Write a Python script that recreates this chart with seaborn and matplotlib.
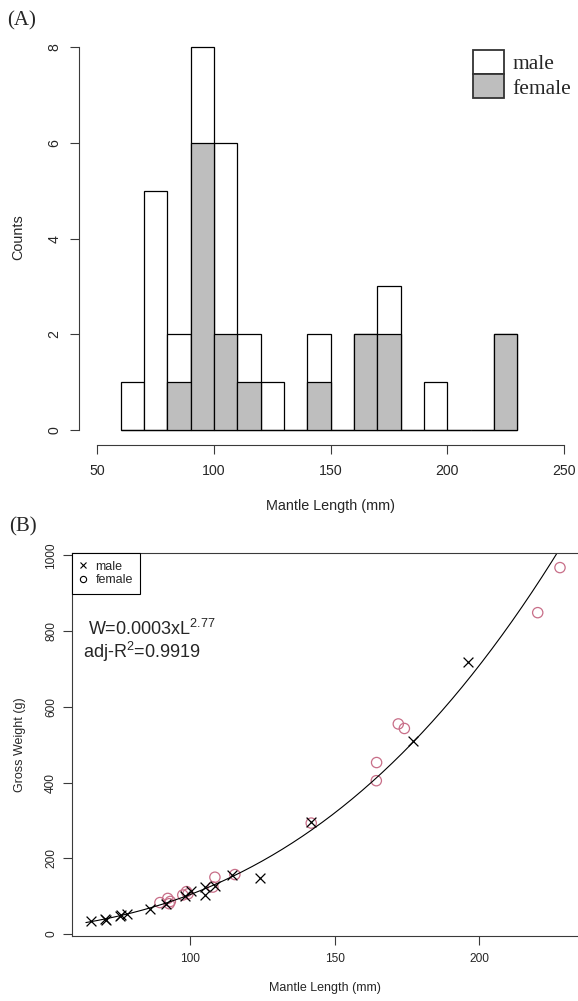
import numpy as np
import matplotlib
matplotlib.use("Agg")
import matplotlib.pyplot as plt
import seaborn as sns
from matplotlib.patches import Patch
from matplotlib.lines import Line2D

# ---------------- data ----------------
# Panel A: histogram counts per 10 mm bin (60-230 mm)
bin_edges = [60, 70, 80, 90, 100, 110, 120, 130, 140, 150, 160, 170, 180, 190, 200, 210, 220, 230]
male_counts = [1, 5, 2, 8, 6, 2, 1, 0, 2, 0, 2, 3, 0, 1, 0, 0, 2]
female_counts = [0, 0, 1, 6, 2, 1, 0, 0, 1, 0, 2, 2, 0, 0, 0, 0, 2]
hist_labels = ["male", "female"]

# Panel B: mantle length (mm) vs gross weight (g)
male_length = [65.7, 70.6, 70.8, 75.8, 76.3, 78.1, 86.0, 91.8, 98.3, 100.5,
               105.2, 105.2, 108.8, 114.5, 124.3, 141.8, 177.2, 196.2]
male_weight = [34, 40, 38, 48, 50, 52, 65, 80, 101, 113,
               123, 103, 128, 155, 148, 295, 511, 718]
female_length = [89.6, 92.3, 92.8, 93.2, 97.5, 98.8, 99.3, 107.9, 108.6, 115.5,
                 141.9, 164.5, 164.4, 172.0, 174.1, 220.2, 227.9]
female_weight = [83, 94, 80, 86, 103, 112, 106, 124, 150, 157,
                 293, 453, 405, 555, 543, 849, 968]
fit_a = 0.0003
fit_b = 2.77
adj_r2 = 0.9919

hist_xticks = [50, 100, 150, 200, 250]
hist_yticks = [0, 2, 4, 6, 8]
scat_xticks = [100, 150, 200]
scat_yticks = [0, 200, 400, 600, 800, 1000]

# ---------------- style ----------------
sns.set_style("ticks")
plt.rcParams["font.family"] = ["Liberation Sans", "DejaVu Sans"]
SERIF = ["Liberation Serif", "DejaVu Serif"]
AXC = "#3a3a3a"
FEM_C = "#c86e88"

W, H = 578, 1001
fig = plt.figure(figsize=(W / 100, H / 100), dpi=100)


def rect(left, top, right, bottom):
    return [left / W, 1 - bottom / H, (right - left) / W, (bottom - top) / H]


# ---------------- panel A ----------------
axA = fig.add_axes(rect(78.6, 32, 582.7, 445.3))
centers = [(bin_edges[i] + bin_edges[i + 1]) / 2 for i in range(len(bin_edges) - 1)]
sns.histplot(x=centers, weights=male_counts, bins=bin_edges, color="white",
             edgecolor="black", linewidth=0.9, alpha=1, ax=axA)
sns.histplot(x=centers, weights=female_counts, bins=bin_edges, color="#bebebe",
             edgecolor="black", linewidth=0.9, alpha=1, ax=axA)
axA.set_xlim(42, 258)
axA.set_ylim(-0.32, 8.32)
for s in ["top", "right"]:
    axA.spines[s].set_visible(False)
axA.spines["left"].set_bounds(0, 8)
axA.spines["bottom"].set_bounds(50, 250)
for s in ["left", "bottom"]:
    axA.spines[s].set_color(AXC)
    axA.spines[s].set_linewidth(0.8)
axA.set_xticks(hist_xticks)
axA.set_yticks(hist_yticks)
axA.tick_params(length=6.5, width=0.8, color=AXC, labelsize=10.2)
axA.tick_params(axis="x", pad=7)
axA.tick_params(axis="y", pad=6, labelrotation=90)
for lab in axA.get_yticklabels():
    lab.set_va("center")
axA.set_xlabel("Mantle Length (mm)", fontsize=10.4, va="center")
axA.xaxis.set_label_coords(0.5, (445.3 - 506) / 413.3)
axA.set_ylabel("Counts", fontsize=10.4, va="center")
axA.yaxis.set_label_coords((18 - 78.6) / 504.1, (445.3 - 237) / 413.3)

handlesA = [Patch(facecolor="white", edgecolor="#333333", linewidth=1.3),
            Patch(facecolor="#bebebe", edgecolor="#333333", linewidth=1.3)]
fsA = 15.5
axA.legend(handlesA, hist_labels, loc="upper left",
           bbox_to_anchor=(473 / W, 1 - 50 / H), bbox_transform=fig.transFigure,
           frameon=False, borderpad=0, borderaxespad=0,
           handlelength=22.3 / fsA, handleheight=20.9 / fsA,
           labelspacing=0, handletextpad=0.4,
           prop={"family": SERIF, "size": fsA})

fig.text(22 / W, 1 - 21 / H, "(A)", family=SERIF, fontsize=15, ha="center", va="center")

# ---------------- panel B ----------------
axB = fig.add_axes(rect(72.3, 553, 584, 936))
curve_x = np.linspace(64, 236, 300)
sns.lineplot(x=curve_x, y=fit_a * curve_x ** fit_b, color="black", linewidth=0.8,
             ax=axB, sort=True)
sns.scatterplot(x=female_length, y=female_weight, marker="o", s=55,
                facecolors="none", edgecolors=FEM_C, linewidth=0.9, ax=axB)
sns.scatterplot(x=male_length, y=male_weight, marker="x", s=50,
                color="black", linewidth=0.9, ax=axB)
axB.set_xlim(59.3, 236.2)
axB.set_ylim(-5.3, 1006.6)
for s in axB.spines.values():
    s.set_color(AXC)
    s.set_linewidth(0.8)
axB.set_xticks(scat_xticks)
axB.set_yticks(scat_yticks)
axB.tick_params(length=6.5, width=0.8, color=AXC, labelsize=8.6)
axB.tick_params(axis="x", pad=5.5)
axB.tick_params(axis="y", pad=4.5, labelrotation=90)
for lab in axB.get_yticklabels():
    lab.set_va("center")
axB.set_xlabel("Mantle Length (mm)", fontsize=9, va="center")
axB.xaxis.set_label_coords((325 - 72.3) / 511.7, (936 - 988) / 383)
axB.set_ylabel("Gross Weight (g)", fontsize=9, va="center")
axB.yaxis.set_label_coords((20 - 72.3) / 511.7, 0.5)

handlesB = [Line2D([], [], marker="x", ls="none", color="black", markersize=5, mew=0.8),
            Line2D([], [], marker="o", ls="none", mfc="none", mec="black", markersize=4.5, mew=0.8)]
legB = axB.legend(handlesB, ["male", "female"], loc="upper left", bbox_to_anchor=(0, 1),
                  borderaxespad=0, fancybox=False, edgecolor="black", framealpha=1,
                  fontsize=9, borderpad=0.6, handlelength=0.45, handletextpad=0.8,
                  labelspacing=0.15)
legB.get_frame().set_linewidth(0.8)

fig.text(88 / W, 1 - 629 / H, f"W={fit_a:g}xL$^{{\\mathregular{{{fit_b:g}}}}}$",
         fontsize=13, ha="left", va="center")
fig.text(82.7 / W, 1 - 652 / H, f"adj-R$^{{\\mathregular{{2}}}}$={adj_r2:g}",
         fontsize=13, ha="left", va="center")

fig.text(23 / W, 1 - 527 / H, "(B)", family=SERIF, fontsize=15, ha="center", va="center")

fig.savefig("out.png", dpi=100)
